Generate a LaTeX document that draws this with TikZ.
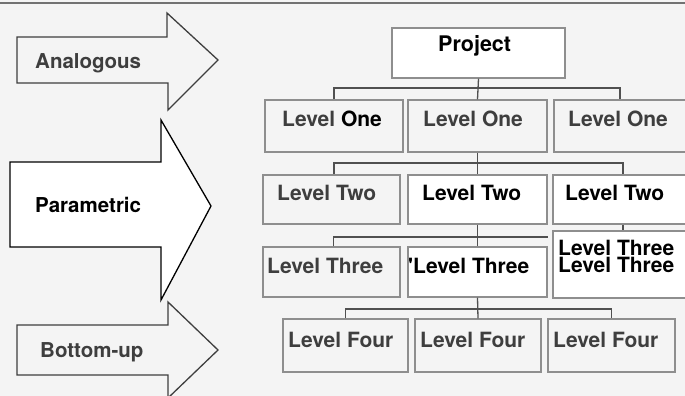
\documentclass[tikz,border=0pt]{standalone}
\usepackage{fontspec}
\setmainfont{TeX Gyre Heros}
\newfontfamily\rawheros{TeX Gyre Heros}[Ligatures=TeXOff]
\begin{document}
\definecolor{paper}{HTML}{F4F4F4}
\definecolor{boxline}{HTML}{8E8E8E}
\definecolor{connline}{HTML}{505050}
\definecolor{softink}{HTML}{3E3E3E}
\definecolor{rule}{HTML}{727272}
\begin{tikzpicture}[x=1pt,y=-1pt,
  wbs/.style={draw=boxline, line width=1.2pt, rectangle, inner sep=0pt},
  pasted/.style={wbs, fill=white},
  conn/.style={draw=connline, line width=1.3pt},
  lbl/.style={anchor=base west, inner sep=0pt, font=\bfseries\fontsize{21}{21}\selectfont},
  grey/.style={lbl, text=softink},
  dark/.style={lbl, text=black},
  arrowshape/.style={line width=1.3pt, line join=miter}
]
\useasboundingbox (0,0) rectangle (685,396);
\fill[paper] (0,0) rectangle (685,396);
\draw[rule, line width=2pt] (0,3) -- (685,3);

% method arrows on the left
\draw[arrowshape, draw=softink, fill=paper]
  (17,37) -- (167,37) -- (167,13) -- (218,60) -- (168,110) -- (168,83) -- (17,83) -- cycle;
\draw[arrowshape, draw=black, fill=white]
  (10,162) -- (161,162) -- (161,120) -- (211,206) -- (161,300) -- (161,247) -- (10,247) -- cycle;
\draw[arrowshape, draw=softink, fill=paper]
  (17,325) -- (168,325) -- (168,302) -- (218,350) -- (168,398) -- (168,375) -- (17,375) -- cycle;
\node[grey, font=\bfseries\fontsize{20.5}{20.5}\selectfont] (tAna) at (35,68) {Analogous};
\node[dark, font=\bfseries\fontsize{20.5}{20.5}\selectfont] (tPar) at (35,212) {Parametric};
\node[grey, font=\bfseries\fontsize{20.5}{20.5}\selectfont] (tBot) at (40,357) {Bottom-up};

% breakdown boxes
\node[pasted, minimum width=173pt, minimum height=50pt] (P) at (478.5,53) {};
\node[wbs, minimum width=138pt, minimum height=52pt] (L1a) at (334,126) {};
\node[wbs, minimum width=139pt, minimum height=52pt] (L1b) at (477.5,126) {};
\node[wbs, minimum width=146pt, minimum height=52pt] (L1c) at (627,126) {};
\node[wbs, minimum width=137pt, minimum height=49pt] (L2a) at (331.5,199.5) {};
\node[pasted, minimum width=139pt, minimum height=49pt] (L2b) at (477.5,199.5) {};
\node[pasted, minimum width=147pt, minimum height=49pt] (L2c) at (626.5,199.5) {};
\node[wbs, minimum width=137pt, minimum height=50pt] (L3a) at (331.5,272) {};
\node[pasted, minimum width=139pt, minimum height=50pt] (L3b) at (477.5,272) {};
\node[pasted, minimum width=147pt, minimum height=67pt] (L3c) at (626.5,264.5) {};
\node[wbs, minimum width=125pt, minimum height=53pt] (L4a) at (345.5,345.5) {};
\node[wbs, minimum width=126pt, minimum height=53pt] (L4b) at (478,345.5) {};
\node[wbs, minimum width=127pt, minimum height=53pt] (L4c) at (611.5,345.5) {};

% connector bars
\coordinate (bar1) at (478,88);
\coordinate (bar2) at (478,163);
\coordinate (bar3) at (478,237);
\coordinate (bar4) at (478,309);
\draw[conn] (P.south) -- (L1b.north);
\draw[conn] (L1a.north) |- (bar1) -| ([xshift=-7pt]L1c.north);
\draw[conn] (L1b.south) -- (L2b.north);
\draw[conn] ([xshift=2.5pt]L2a.north) |- (bar2) -| ([xshift=-3.5pt]L2c.north);
\draw[conn] (L2b.south) -- (L3b.north);
\draw[conn] ([xshift=2pt]L3a.north) |- (bar3) -- (bar3 -| L3b.east);
\draw[conn] ([xshift=-3.5pt]L2c.south) -- ([xshift=-3.5pt]L3c.north);
\draw[conn] (L3b.south) -- (L4b.north);
\draw[conn] (L4a.north) |- (bar4) -| (L4c.north);

% box labels
\node[dark, font=\bfseries\fontsize{21.5}{21.5}\selectfont] (tP) at (438,52) {Project};
\node[grey] (t1a) at (282,126) {Level \textcolor{black}{One}};
\node[grey] (t1b) at (423,126) {Level One};
\node[grey] (t1c) at (568,126) {Level One};
\node[grey] (t2a) at (277,200) {Level Two};
\node[dark] (t2b) at (422,200) {Level Two};
\node[dark] (t2c) at (565,200) {Level Two};
\node[grey] (t3a) at (267,273) {Level Three};
\node[dark] (t3b) at (408,273) {{\rawheros\bfseries '}Level Three};
\node[dark, align=left, font=\bfseries\fontsize{21}{17.5}\selectfont] (t3c) at (558,272.5) {Level Three\\Level Three};
\node[grey] (t4a) at (288,347) {Level Four};
\node[grey] (t4b) at (420,347) {Level Four};
\node[grey] (t4c) at (553,347) {Level Four};
\end{tikzpicture}
\end{document}
